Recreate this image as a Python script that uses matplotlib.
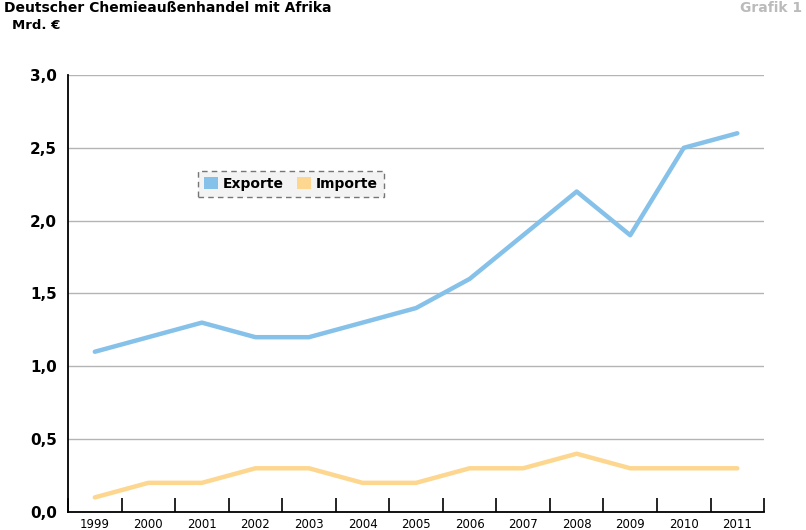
import matplotlib.pyplot as plt
import numpy as np
from matplotlib.patches import Patch
from matplotlib import font_manager

names = {f.name for f in font_manager.fontManager.ttflist}
cond = 'Liberation Sans Narrow' if 'Liberation Sans Narrow' in names else 'DejaVu Sans'
plt.rcParams['font.family'] = [cond, 'DejaVu Sans']

years = ['1999', '2000', '2001', '2002', '2003', '2004', '2005',
         '2006', '2007', '2008', '2009', '2010', '2011']
exporte = [1.1, 1.2, 1.3, 1.2, 1.2, 1.3, 1.4, 1.6, 1.9, 2.2, 1.9, 2.5, 2.6]
importe = [0.1, 0.2, 0.2, 0.3, 0.3, 0.2, 0.2, 0.3, 0.3, 0.4, 0.3, 0.3, 0.3]
yticks = [0.0, 0.5, 1.0, 1.5, 2.0, 2.5, 3.0]

c_exp = '#85c1e9'
c_imp = '#fdd78f'

fig = plt.figure(figsize=(8.06, 5.30), dpi=100)
ax = fig.add_axes([0.0844, 0.034, 0.8636, 0.8245])

x = np.arange(len(years))
ax.plot(x, exporte, color=c_exp, lw=3.2, solid_capstyle='round', zorder=3)
ax.plot(x, importe, color=c_imp, lw=3.2, solid_capstyle='round', zorder=3)

ax.set_xlim(-0.5, len(years) - 0.5)
ax.set_ylim(0, 3.0)
ax.set_yticks(yticks)
ax.set_yticklabels([f'{v:.1f}'.replace('.', ',') for v in yticks],
                   fontweight='bold', fontsize=11)
ax.tick_params(axis='y', length=0, pad=8)
for v in yticks[1:]:
    ax.axhline(v, color='#b4b4b4', lw=1, zorder=1)

ax.set_xticks(x)
ax.set_xticklabels(years, fontsize=8.5)
ax.set_xticks(np.arange(len(years) + 1) - 0.5, minor=True)
ax.tick_params(axis='x', which='major', length=0, pad=4)
ax.tick_params(axis='x', which='minor', direction='in', length=10, width=1.2)

for s in ['top', 'right']:
    ax.spines[s].set_visible(False)
ax.spines['left'].set_linewidth(1.3)
ax.spines['bottom'].set_linewidth(1.3)

handles = [Patch(facecolor=c_exp, label='Exporte'),
           Patch(facecolor=c_imp, label='Importe')]
leg = fig.legend(handles=handles, loc='center', bbox_to_anchor=(0.361, 0.653),
                 ncol=2, frameon=True, fancybox=False, handlelength=1.0,
                 handleheight=1.0, handletextpad=0.3, columnspacing=1.0,
                 borderpad=0.45, prop={'weight': 'bold', 'size': 10})
fr = leg.get_frame()
fr.set_facecolor('#f0f0f0')
fr.set_edgecolor('#555555')
fr.set_linestyle((0, (4, 3)))
fr.set_linewidth(1)

fig.text(0.005, 0.998, 'Deutscher Chemieaußenhandel mit Afrika', fontsize=10,
         fontweight='bold', va='top', ha='left')
fig.text(0.995, 0.998, 'Grafik 1', fontsize=10, fontweight='bold', color='#bbbbbb',
         va='top', ha='right')
fig.text(0.015, 0.952, 'Mrd. €', fontsize=9.5, fontweight='bold', va='center')

fig.savefig('out.png', dpi=100)
